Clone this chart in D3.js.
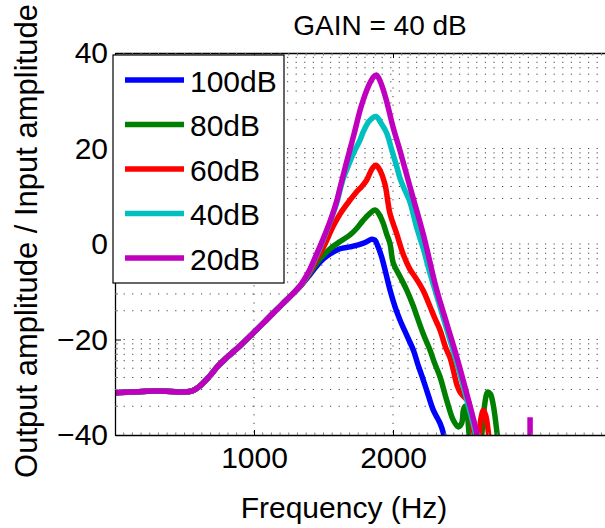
<!DOCTYPE html>
<html><head><meta charset="utf-8">
<script src="https://cdn.jsdelivr.net/npm/d3@7"></script>
<style>
body{margin:0;background:#fff}
svg{display:block}
text{font-family:"Liberation Sans",Arial,Helvetica,sans-serif;fill:#000}
</style>
</head><body>
<svg id="chart" width="605" height="528"></svg>
<script>
// ---------------- data ----------------
const seriesNames = ["100dB", "80dB", "60dB", "40dB", "20dB"];
const seriesColors = ["#0000ff", "#008000", "#ff0000", "#00bfbf", "#bf00bf"];
const xTicks = [1000, 2000];
const yTicks = [-40, -20, 0, 20, 40];
const titleText = "GAIN = 40 dB";
const xLabel = "Frequency (Hz)";
const yLabel = "Output amplitude / Input amplitude";

// shared low-frequency part (all curves coincide)
const freqCommon = [0,100,200,300,400,500,560,620,680,740,800,900,1000,1100,1200,1280];
const dbCommon   = [-31.2,-31.0,-30.9,-30.8,-30.9,-31.0,-30.7,-29.5,-27.7,-25.6,-23.9,-21.3,-18.5,-15.6,-12.7,-10.4];

const freq100 = [1340,1400,1451,1500,1547,1619,1691,1750,1800,1846,1870,1890,1918,1955,1978,2014,2050,2100,2146,2180,2218,2255,2290,2320,2338,2362,2380];
const db100   = [-8.6,-6.5,-4.6,-3.1,-2.1,-1.0,-0.6,-0.2,0.3,1.0,0.8,-0.4,-2.7,-6.9,-9.6,-13.1,-15.9,-19.2,-22.2,-25.3,-28.5,-31.8,-34.8,-36.5,-37.5,-39.6,-43];

const freq80 = [1340,1400,1451,1500,1547,1619,1691,1740,1787,1830,1871,1900,1930,1955,1978,2002,2050,2098,2146,2170,2220,2266,2300,2338,2386,2434,2470,2494,2506,2518,2535,2552,2575,2615,2638,2660,2680,2700,2720,2750,2765];
const db80   = [-8.6,-6.2,-4.0,-2.3,-1.0,0.5,1.9,3.3,5.0,6.3,7.1,6.2,4.3,2.0,0.1,-4.0,-6.8,-9.6,-13.0,-15.0,-19.0,-22.2,-25.0,-27.8,-32.7,-36.9,-38.3,-37.5,-34.8,-34.0,-36.0,-41,-44,-44,-40,-33.5,-31.0,-31.4,-33.5,-40,-44];

const freq60 = [1340,1403,1450,1499,1571,1619,1691,1740,1774,1811,1850,1878,1905,1942,1978,2026,2074,2120,2170,2218,2266,2300,2338,2380,2410,2434,2460,2482,2510,2542,2560,2578,2595,2605,2630,2650,2668,2688,2700];
const db60   = [-8.6,-5.8,-3.2,-0.7,3.8,6.3,9.2,11.0,12.0,13.4,15.8,16.5,15.5,12.5,6.4,2.2,-2.2,-5.2,-7.4,-9.8,-13.1,-15.5,-18.0,-21.8,-23.8,-26.4,-29.5,-31.0,-32.0,-33.0,-35.5,-39.5,-44,-44,-37,-34.8,-36,-40,-44];

const freq40 = [1340,1390,1440,1499,1550,1595,1620,1643,1680,1715,1763,1786,1830,1878,1910,1955,1990,2027,2050,2086,2122,2170,2218,2260,2314,2386,2458,2530,2595,2610];
const db40   = [-8.5,-6.2,-3.1,0.9,4.8,8.6,11.4,13.8,16.5,19.0,21.8,23.5,25.8,26.7,25.5,23.2,19.8,16.2,13.8,11.2,8.8,3.5,-1.0,-5.5,-10.8,-17.8,-24.8,-32.5,-40,-44];

const freq20 = [1340,1390,1440,1499,1550,1595,1619,1660,1715,1763,1786,1830,1860,1880,1900,1930,1955,2000,2050,2122,2218,2314,2386,2458,2530,2602,2620,2800,2986,2986];
const db20   = [-8.4,-6.0,-2.8,1.2,5.0,9.0,11.8,16.5,22.5,28.0,30.2,33.5,35.0,35.4,34.6,32.3,29.8,24.5,19.6,12.0,2.0,-9.6,-16.6,-23.6,-31.3,-39.6,-44,null,-45,-36.3];

const seriesFreq = [freq100, freq80, freq60, freq40, freq20];
const seriesDb   = [db100, db80, db60, db40, db20];

// ---------------- layout ----------------
const L = 115, R = 605, T = 53, B = 435;
const svg = d3.select("#chart");
const x = d3.scaleLinear().domain([0, 3525]).range([L, R]);
const y = d3.scaleLinear().domain([-40, 40]).range([B, T]);

// grid (dotted)
const gridG = svg.append("g");
const minorY = [];
for (let i = 0; i < yTicks.length - 1; i++) {
  for (let k = 2; k <= 9; k++) minorY.push(yTicks[i] + 20 * Math.log10(k));
}
const allRows = yTicks.slice(1, -1).concat(minorY);
gridG.selectAll("line.h").data(allRows).enter().append("line")
  .attr("x1", L).attr("x2", R).attr("y1", d => y(d)).attr("y2", d => y(d))
  .attr("stroke", "#444").attr("stroke-width", 1).attr("stroke-dasharray", "1.2,7.4");
gridG.selectAll("line.v").data(xTicks).enter().append("line")
  .attr("x1", d => x(d)).attr("x2", d => x(d)).attr("y1", T).attr("y2", B)
  .attr("stroke", "#444").attr("stroke-width", 1).attr("stroke-dasharray", "1.2,7.4");

// curves
svg.append("clipPath").attr("id", "clip").append("rect")
  .attr("x", L).attr("y", T).attr("width", R - L).attr("height", B - T);
const line = d3.line()
  .defined(d => d[1] !== null)
  .x(d => x(d[0])).y(d => y(d[1]))
  .curve(d3.curveCatmullRom.alpha(0.5));
const curvesG = svg.append("g").attr("clip-path", "url(#clip)");
seriesNames.forEach((name, i) => {
  const f = freqCommon.concat(seriesFreq[i]);
  const v = dbCommon.concat(seriesDb[i]);
  const pts = f.map((fr, j) => [fr, v[j]]);
  curvesG.append("path").datum(pts)
    .attr("d", line)
    .attr("fill", "none")
    .attr("stroke", seriesColors[i])
    .attr("stroke-width", 5.5)
    .attr("stroke-linejoin", "round")
    .attr("stroke-linecap", "butt");
});

// axes
const fmt = d => d < 0 ? "\u2212" + Math.abs(d) : String(d);
const yAxis = svg.append("g").attr("transform", `translate(${L},0)`)
  .call(d3.axisLeft(y).tickValues(yTicks).tickSizeInner(-6).tickSizeOuter(0).tickPadding(7).tickFormat(fmt));
const xAxis = svg.append("g").attr("transform", `translate(0,${B})`)
  .call(d3.axisBottom(x).tickValues(xTicks).tickSizeInner(-5).tickSizeOuter(0).tickPadding(12).tickFormat(d => String(d)));
const xTop = svg.append("g").attr("transform", `translate(0,${T})`)
  .call(d3.axisTop(x).tickValues(xTicks).tickSizeInner(-5).tickSizeOuter(0).tickFormat(""));
[yAxis, xAxis, xTop].forEach(g => {
  g.select(".domain").attr("stroke", "#000").attr("stroke-width", 1.3);
  g.selectAll(".tick line").attr("stroke", "#000");
  g.selectAll(".tick text").attr("font-size", 30).attr("fill", "#000")
    .style("font-family", '"Liberation Sans",Arial,sans-serif');
});
// minor ticks
const minorX = d3.range(62.5, 3525, 62.5).filter(v => !xTicks.includes(v));
const mt = svg.append("g").attr("stroke", "#777").attr("stroke-width", 1);
minorX.forEach(v => {
  mt.append("line").attr("x1", x(v)).attr("x2", x(v)).attr("y1", B).attr("y2", B - 2.5);
  mt.append("line").attr("x1", x(v)).attr("x2", x(v)).attr("y1", T).attr("y2", T + 2.5);
});
minorY.forEach(v => {
  mt.append("line").attr("x1", L).attr("x2", L + 3).attr("y1", y(v)).attr("y2", y(v));
});

// titles
svg.append("text").attr("x", 380).attr("y", 35).attr("text-anchor", "middle")
  .attr("font-size", 28).text(titleText);
svg.append("text").attr("x", 344).attr("y", 518).attr("text-anchor", "middle")
  .attr("font-size", 30).text(xLabel);
svg.append("text").attr("transform", "translate(37,241) rotate(-90)").attr("text-anchor", "middle")
  .attr("font-size", 31).text(yLabel);

// legend
const lg = svg.append("g");
lg.append("rect").attr("x", 113).attr("y", 55).attr("width", 171).attr("height", 228)
  .attr("fill", "#fff").attr("stroke", "#000").attr("stroke-width", 1.2);
seriesNames.forEach((name, i) => {
  const ly = 80 + i * 44.5;
  lg.append("line").attr("x1", 125).attr("x2", 184).attr("y1", ly).attr("y2", ly)
    .attr("stroke", seriesColors[i]).attr("stroke-width", 5.5);
  lg.append("text").attr("x", 190).attr("y", ly + 11.5).attr("font-size", 30).text(name);
});
</script>
</body></html>
